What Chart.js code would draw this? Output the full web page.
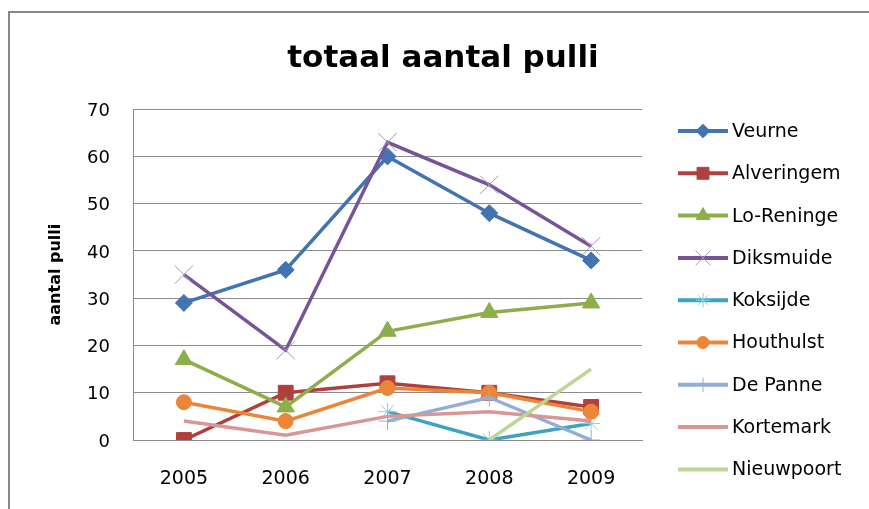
<!DOCTYPE html>
<html>
<head>
<meta charset="utf-8">
<script src="https://cdn.jsdelivr.net/npm/chart.js@4.4.0/dist/chart.umd.min.js"></script>
<style>
  html, body { margin: 0; padding: 0; background: #fff; }
  #wrap { width: 869px; height: 509px; }
</style>
</head>
<body>
<div id="wrap"><canvas id="grafiek" width="869" height="509"></canvas></div>
<script>
/* ---- Gegevens ---- */
const jaren      = ['2005', '2006', '2007', '2008', '2009'];
const gemeenten  = ['Veurne', 'Alveringem', 'Lo-Reninge', 'Diksmuide', 'Koksijde',
                    'Houthulst', 'De Panne', 'Kortemark', 'Nieuwpoort'];
const veurne     = [29, 36, 60, 48, 38];
const alveringem = [0, 10, 12, 10, 7];
const loReninge  = [17, 7, 23, 27, 29];
const diksmuide  = [35, 19, 63, 54, 41];
const koksijde   = [null, null, 6, 0, 3.5];
const houthulst  = [8, 4, 11, 10, 6];
const dePanne    = [null, null, 4, 9, 0];
const kortemark  = [4, 1, 5, 6, 4];
const nieuwpoort = [null, null, null, 0, 15];
const yTicks     = [0, 10, 20, 30, 40, 50, 60, 70];

const reeksen = [veurne, alveringem, loReninge, diksmuide, koksijde,
                 houthulst, dePanne, kortemark, nieuwpoort];

/* ---- Stijlen (Excel 2007) ---- */
const stijlen = [
  { lijn: '#4174B0', vul: '#4174B0', rand: '#4174B0', vorm: 'rectRot',  r: 8.5, rb: 1 },
  { lijn: '#B0403D', vul: '#B0403D', rand: '#B0403D', vorm: 'rect',     r: 10.5, rb: 1 },
  { lijn: '#8DAF4B', vul: '#8DAF4B', rand: '#8DAF4B', vorm: 'triangle', r: 10, rb: 1 },
  { lijn: '#765597', vul: '#765597', rand: '#A593C4', vorm: 'crossRot', r: 13, rb: 1 },
  { lijn: '#3FA2BE', vul: '#3FA2BE', rand: '#8FCFE2', vorm: 'star',     r: 9, rb: 1 },
  { lijn: '#EB8638', vul: '#EB8638', rand: '#EB8638', vorm: 'circle',   r: 7.5, rb: 1 },
  { lijn: '#93AED6', vul: '#93AED6', rand: '#93AED6', vorm: 'cross',    r: 9, rb: 1 },
  { lijn: '#D99694', vul: '#D99694', rand: '#D99694', vorm: 'circle',   r: 0, rb: 0 },
  { lijn: '#BDD598', vul: '#BDD598', rand: '#BDD598', vorm: 'circle',   r: 0, rb: 0 },
];

const FONT = '"DejaVu Sans", sans-serif';
const GRIJS = '#8C8C8C';

const datasets = reeksen.map((data, i) => ({
  label: gemeenten[i],
  data,
  borderColor: stijlen[i].lijn,
  borderWidth: 3.5,
  backgroundColor: stijlen[i].vul,
  pointStyle: stijlen[i].vorm,
  pointRadius: stijlen[i].r,
  pointHoverRadius: stijlen[i].r,
  pointBackgroundColor: stijlen[i].vul,
  pointBorderColor: stijlen[i].rand,
  pointBorderWidth: stijlen[i].rb,
  tension: 0,
  spanGaps: false,
  order: 20 - i,
}));

/* ---- Kader rond de grafiek ---- */
const kader = {
  id: 'kader',
  beforeDraw(chart) {
    const ctx = chart.ctx;
    ctx.save();
    ctx.fillStyle = '#fff';
    ctx.fillRect(0, 0, chart.width, chart.height);
    ctx.strokeStyle = '#868686';
    ctx.lineWidth = 2;
    ctx.strokeRect(9, 12, chart.width + 20, chart.height + 20);
    ctx.restore();
  },
};

/* ---- Legende rechts (lijn + marker) ---- */
const legende = {
  id: 'legende',
  afterDraw(chart) {
    const ctx = chart.ctx;
    ctx.save();
    chart.data.datasets.forEach((ds, i) => {
      const y = 131 + i * 42.3;
      ctx.strokeStyle = ds.borderColor;
      ctx.lineWidth = 4;
      ctx.beginPath();
      ctx.moveTo(678, y);
      ctx.lineTo(728, y);
      ctx.stroke();
      if (ds.pointRadius > 0) {
        ctx.fillStyle = ds.pointBackgroundColor;
        ctx.strokeStyle = ds.pointBorderColor;
        ctx.lineWidth = ds.pointBorderWidth;
        Chart.helpers.drawPoint(ctx, {
          pointStyle: ds.pointStyle,
          radius: ds.pointRadius * 0.8,
          rotation: 0,
          borderWidth: ds.pointBorderWidth,
        }, 703, y);
      }
      ctx.fillStyle = '#000';
      ctx.font = '19px ' + FONT;
      ctx.textAlign = 'left';
      ctx.textBaseline = 'middle';
      ctx.fillText(ds.label, 732, y + 1);
    });
    ctx.restore();
  },
};

new Chart(document.getElementById('grafiek'), {
  type: 'line',
  data: { labels: jaren, datasets },
  plugins: [kader, legende],
  options: {
    responsive: false,
    animation: false,
    devicePixelRatio: 1,
    layout: { padding: { left: 17, right: 0, top: 0, bottom: 0 } },
    plugins: {
      legend: { display: false },
      tooltip: { enabled: false },
      title: {
        display: true,
        text: 'totaal aantal pulli',
        color: '#000',
        font: { family: FONT, size: 31, weight: 'bold' },
        padding: { top: 40, bottom: 32 },
      },
    },
    scales: {
      x: {
        offset: true,
        grid: { display: false, drawTicks: false },
        border: { display: true, color: GRIJS, width: 1 },
        ticks: { color: '#000', font: { family: FONT, size: 19 }, padding: 28 },
        afterFit: s => { s.height = 69; },
      },
      y: {
        min: 0,
        max: 70,
        afterBuildTicks: s => { s.ticks = yTicks.map(v => ({ value: v })); },
        grid: { color: GRIJS, lineWidth: 1, drawTicks: false },
        border: { display: true, color: GRIJS, width: 1 },
        ticks: { color: '#000', font: { family: FONT, size: 18 }, padding: 23, labelOffset: 2 },
        title: {
          display: true,
          text: 'aantal pulli',
          color: '#000',
          font: { family: FONT, size: 16, weight: 'bold' },
          padding: { top: 29, bottom: 0 },
        },
        afterFit: s => { s.width = 116; },
      },
      ruimte: {
        position: 'right',
        display: true,
        grid: { display: false, drawTicks: false },
        border: { display: false },
        ticks: { display: false },
        afterFit: s => { s.width = 227; },
      },
    },
  },
});
</script>
</body>
</html>
